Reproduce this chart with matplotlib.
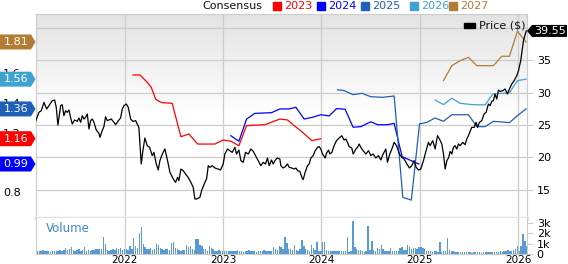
import numpy as np
import matplotlib
matplotlib.use("Agg")
import matplotlib.pyplot as plt
from matplotlib.patches import Polygon, Rectangle

# ---------------- data ----------------
price_t = [2021.091, 2021.125, 2021.149, 2021.176, 2021.203, 2021.227, 2021.261, 2021.285, 2021.301, 2021.318,
           2021.346, 2021.362, 2021.379, 2021.396, 2021.413, 2021.430, 2021.447, 2021.464, 2021.488, 2021.515,
           2021.532, 2021.549, 2021.566, 2021.583, 2021.600, 2021.617, 2021.634, 2021.651, 2021.668, 2021.685,
           2021.708, 2021.736, 2021.746, 2021.769, 2021.786, 2021.803, 2021.820, 2021.837, 2021.861, 2021.888,
           2021.905, 2021.922, 2021.939, 2021.956, 2021.973, 2021.990, 2022.014, 2022.034, 2022.058, 2022.081,
           2022.109, 2022.125, 2022.142, 2022.166, 2022.183, 2022.203, 2022.227, 2022.251, 2022.278, 2022.295,
           2022.319, 2022.339, 2022.356, 2022.380, 2022.407, 2022.434, 2022.458, 2022.492, 2022.515, 2022.536,
           2022.549, 2022.570, 2022.593, 2022.617, 2022.644, 2022.671, 2022.695, 2022.712, 2022.729, 2022.763,
           2022.780, 2022.814, 2022.831, 2022.848, 2022.865, 2022.888, 2022.916, 2022.949, 2022.973, 2023.000,
           2023.017, 2023.044, 2023.068, 2023.092, 2023.119, 2023.136, 2023.160, 2023.180, 2023.204, 2023.227,
           2023.255, 2023.282, 2023.306, 2023.329, 2023.356, 2023.383, 2023.407, 2023.431, 2023.451, 2023.468,
           2023.492, 2023.509, 2023.526, 2023.550, 2023.577, 2023.587, 2023.610, 2023.631, 2023.655, 2023.672,
           2023.699, 2023.723, 2023.740, 2023.757, 2023.780, 2023.801, 2023.814, 2023.834, 2023.858, 2023.875,
           2023.892, 2023.916, 2023.936, 2023.960, 2023.977, 2023.994, 2024.011, 2024.038, 2024.051, 2024.072,
           2024.085, 2024.106, 2024.129, 2024.153, 2024.180, 2024.207, 2024.231, 2024.248, 2024.265, 2024.282,
           2024.309, 2024.323, 2024.350, 2024.367, 2024.384, 2024.401, 2024.424, 2024.452, 2024.479, 2024.503,
           2024.526, 2024.553, 2024.581, 2024.604, 2024.628, 2024.655, 2024.672, 2024.696, 2024.723, 2024.740,
           2024.764, 2024.794, 2024.817, 2024.842, 2024.869, 2024.896, 2024.920, 2024.943, 2024.964, 2024.987,
           2025.011, 2025.038, 2025.065, 2025.089, 2025.106, 2025.133, 2025.157, 2025.181, 2025.201, 2025.225,
           2025.242, 2025.259, 2025.276, 2025.293, 2025.310, 2025.327, 2025.343, 2025.360, 2025.377, 2025.394,
           2025.411, 2025.438, 2025.462, 2025.479, 2025.496, 2025.513, 2025.530, 2025.554, 2025.574, 2025.588,
           2025.608, 2025.632, 2025.655, 2025.676, 2025.699, 2025.716, 2025.733, 2025.750, 2025.767, 2025.784,
           2025.801, 2025.818, 2025.845, 2025.869, 2025.893, 2025.913, 2025.937, 2025.961, 2025.988, 2026.005,
           2026.028, 2026.056, 2026.084]
price_v = [25.55, 26.95, 27.20, 28.49, 27.46, 27.98, 28.75, 28.85, 27.72, 24.98,
           27.98, 28.13, 26.43, 27.20, 26.95, 27.31, 26.17, 25.14, 25.76, 25.55,
           26.07, 25.40, 26.43, 25.91, 26.17, 26.69, 24.37, 25.66, 25.91, 25.40,
           24.21, 23.69, 23.08, 24.11, 24.73, 26.27, 25.66, 25.76, 25.91, 25.40,
           25.04, 25.40, 25.76, 26.07, 27.46, 27.98, 28.24, 27.72, 25.91, 25.55,
           25.66, 25.14, 24.62, 18.95, 21.01, 22.97, 21.79, 21.53, 20.24, 20.75,
           18.95, 18.02, 19.46, 20.50, 21.27, 19.46, 17.66, 16.63, 16.11, 16.88,
           16.37, 18.17, 17.92, 17.40, 16.88, 16.11, 15.34, 13.53, 13.53, 13.79,
           14.82, 16.11, 16.63, 18.69, 18.43, 18.69, 18.33, 18.17, 18.02, 18.95,
           20.50, 21.27, 21.01, 20.75, 21.53, 20.50, 21.11, 19.46, 19.21, 20.75,
           20.50, 21.27, 20.91, 20.24, 19.46, 18.69, 19.21, 18.95, 19.88, 18.69,
           19.57, 18.95, 19.46, 19.88, 19.72, 18.69, 18.33, 18.53, 18.95, 18.43,
           18.33, 18.17, 18.33, 17.92, 17.81, 16.88, 16.52, 17.66, 18.69, 18.95,
           19.88, 20.24, 21.01, 21.53, 21.63, 21.27, 20.50, 19.88, 20.60, 21.11,
           20.50, 20.75, 21.79, 22.56, 22.97, 23.33, 22.66, 22.82, 22.30, 21.63,
           21.42, 20.50, 21.27, 21.53, 22.04, 21.53, 21.01, 20.50, 21.01, 20.24,
           20.50, 19.88, 20.24, 19.57, 20.50, 21.27, 19.21, 20.50, 21.53, 22.30,
           21.79, 20.50, 19.98, 19.72, 18.95, 18.33, 18.69, 19.46, 18.43, 18.02,
           18.17, 19.46, 21.01, 22.30, 21.79, 22.56, 21.27, 23.33, 22.82, 22.04,
           20.50, 18.17, 19.46, 19.88, 20.91, 20.50, 21.53, 21.79, 21.27, 22.04,
           21.79, 22.30, 21.94, 22.82, 23.33, 24.00, 24.62, 24.62, 25.40, 24.62,
           25.40, 25.66, 26.69, 26.95, 28.24, 27.98, 28.65, 28.75, 29.78, 29.01,
           30.40, 30.20, 30.30, 30.56, 29.78, 30.56, 31.33, 31.85, 32.62, 33.39,
           34.94, 38.04, 39.55]

eps2023_t = [2022.081, 2022.153, 2022.227, 2022.268, 2022.312, 2022.346, 2022.379, 2022.481, 2022.570, 2022.651,
             2022.740, 2022.916, 2023.000, 2023.078, 2023.160, 2023.238, 2023.424, 2023.577, 2023.655, 2023.722,
             2023.808, 2023.902, 2023.994]
eps2023_v = [1.588, 1.588, 1.539, 1.505, 1.427, 1.411, 1.402, 1.398, 1.173, 1.192,
             1.124, 1.124, 1.151, 1.143, 1.113, 1.248, 1.254, 1.292, 1.286, 1.248,
             1.203, 1.147, 1.16]

eps2024_t = [2023.078, 2023.160, 2023.238, 2023.322, 2023.492, 2023.577, 2023.671, 2023.740, 2023.824, 2023.909,
             2023.994, 2024.078, 2024.154, 2024.241, 2024.322, 2024.401, 2024.503, 2024.571, 2024.672, 2024.740,
             2024.821, 2024.991]
eps2024_v = [1.180, 1.143, 1.292, 1.330, 1.335, 1.360, 1.360, 1.371, 1.292, 1.304,
             1.321, 1.313, 1.362, 1.358, 1.237, 1.241, 1.274, 1.254, 1.254, 1.263,
             1.039, 0.99]

eps2025_t = [2024.164, 2024.231, 2024.322, 2024.411, 2024.503, 2024.622, 2024.740, 2024.828, 2024.915, 2024.998,
             2025.072, 2025.157, 2025.242, 2025.327, 2025.496, 2025.581, 2025.665, 2025.751, 2025.913, 2025.995,
             2026.082]
eps2025_v = [1.489, 1.483, 1.456, 1.465, 1.442, 1.438, 1.447, 0.766, 0.747, 1.259,
             1.270, 1.299, 1.277, 1.321, 1.321, 1.241, 1.241, 1.277, 1.268, 1.315,
             1.36]

eps2026_t = [2025.157, 2025.242, 2025.327, 2025.411, 2025.530, 2025.665, 2025.744, 2025.913, 2025.995, 2026.082]
eps2026_v = [1.420, 1.389, 1.432, 1.398, 1.389, 1.387, 1.460, 1.469, 1.550, 1.56]

eps2027_t = [2025.242, 2025.327, 2025.411, 2025.496, 2025.581, 2025.751, 2025.835, 2025.913, 2025.995, 2026.082]
eps2027_v = [1.550, 1.651, 1.684, 1.707, 1.651, 1.651, 1.714, 1.714, 1.882, 1.81]

# weekly volume (thousands), first week starting 2021.09
vol_start = 2021.09
volume_k = [0.3, 0.25, 0.3, 0.25, 0.35, 0.3, 0.25, 0.3, 0.2, 0.25, 0.3, 0.25, 0.3, 0.35, 0.3, 0.4,
            0.6, 0.35, 0.45, 0.7, 0.4, 0.3, 0.35, 0.5, 0.3, 0.4, 0.7, 0.3, 0.35, 0.3, 0.4,
            0.4, 0.5, 0.5, 0.45, 0.5, 1.7, 1.0, 0.4, 0.3, 0.35,
            0.5, 0.4, 0.55, 0.45, 0.6, 0.4, 0.5, 0.5, 0.4, 0.8, 0.5,
            1.6, 0.8, 0.6, 2.0, 2.6, 1.0, 0.7, 0.5, 0.5, 0.6, 0.4, 0.5, 1.0, 0.9, 0.6, 0.5, 0.4, 0.5,
            0.5, 0.4, 1.1, 1.2, 0.6, 0.5, 0.4, 0.3, 0.4, 0.4, 0.9, 0.7, 0.8, 0.5, 0.4, 1.5, 1.5, 0.9,
            0.8, 0.5, 0.5, 0.3, 0.8, 0.6, 0.5, 0.3, 0.3, 0.4, 0.3, 0.25, 0.3, 0.3, 0.25, 0.3,
            0.3, 0.25, 0.3, 0.35, 0.3, 0.25, 0.2, 0.3, 0.25, 0.35, 0.3, 0.25, 0.3, 0.2, 0.3, 0.25,
            0.3, 0.35, 0.3, 0.25, 0.3,
            0.3, 0.7, 0.5, 0.4, 0.8, 0.7, 0.5, 1.7, 1.1, 0.5, 0.5, 0.4, 0.9, 0.4, 0.3, 0.5, 1.4, 0.8,
            0.5, 0.4, 0.3, 0.9, 0.6, 0.4, 1.2, 0.3, 0.3, 1.2, 1.2, 0.4, 0.3,
            0.3, 0.3, 0.25, 0.3, 0.3, 0.25, 0.3, 0.3,
            0.3, 1.7, 0.2, 0.3, 3.2, 0.7, 0.5, 0.4, 0.4, 0.3, 0.2, 0.3, 2.7, 0.4, 1.3, 0.4, 0.3, 0.6,
            0.5, 0.9, 0.5, 0.3, 0.25, 0.3, 0.6, 0.3, 0.25, 0.25, 0.25, 0.6, 0.7, 0.4, 0.4, 0.9, 0.7,
            0.5, 0.6, 0.6, 0.5, 0.7, 0.7, 0.6, 0.5, 0.3,
            0.3, 0.25, 0.2, 0.25, 0.3, 0.2, 1.2, 0.2, 0.25, 0.3, 1.6, 0.4, 0.3, 0.25, 0.2,
            0.2, 0.15, 0.2, 0.15, 0.15, 0.2, 0.15, 0.15, 0.1, 0.15, 0.15, 0.2, 0.15, 0.1, 0.15, 0.15,
            0.2, 0.15, 0.2, 0.15, 0.2, 0.15, 0.2, 0.25, 0.2, 0.3,
            0.3, 0.4, 0.3, 0.3, 0.4, 0.5, 0.8, 0.3, 0.8, 1.9, 1.3, 0.8]

year_ticks = [2022, 2023, 2024, 2025, 2026]
price_ticks = [15, 20, 25, 30, 35]
eps_ticks = [0.8, 1.0, 1.2, 1.4, 1.6, 1.8]
eps_tick_labels = ["0.8", "1.0", "1.2", "1.4", "1.6", "1.8"]
vol_ticks = [0, 1, 2, 3]
vol_tick_labels = ["0", "1k", "2k", "3k"]
series_names = ["2023", "2024", "2025", "2026", "2027"]
series_colors = ["#ff0000", "#0000ff", "#1f5fb8", "#3fa2d2", "#b27c34"]
last_price = 39.55

# ---------------- figure ----------------
W, H = 568, 264
plt.rcParams['font.family'] = ['DejaVu Sans']
fig = plt.figure(figsize=(W / 100, H / 100), dpi=100)
FS = 8

def fx(px):
    return px / W

def fy(py):
    return 1 - py / H

L, R = 36, 527
TOP, MID, BOT = 14, 218, 254
XLIM = (2021.095, 2026.092)
GRID = "#cccccc"

ax = fig.add_axes([fx(L), fy(MID), fx(R - L), (MID - TOP) / H])
ax2 = ax.twinx()
ax.set_xlim(*XLIM)
ax.set_ylim(10.59, 42.17)
ax2.set_xlim(*XLIM)
ax2.set_ylim(0.627, 1.998)

# gradient background
top_c = np.array([0.89, 0.89, 0.89])
cols = np.ones((256, 1, 3))
for i in range(256):
    f = min(1.0, (i / 255) / 0.5)
    cols[i, 0, :] = top_c * (1 - f) + 1.0 * f
ax.imshow(cols, extent=[0, 1, 0, 1], transform=ax.transAxes, aspect='auto', zorder=0, origin='upper')

for yv in price_ticks + [40]:
    ax.axhline(yv, color=GRID, lw=0.9, zorder=1)
for xv in year_ticks:
    ax.axvline(xv, color=GRID, lw=0.9, zorder=1)

# price axis on the right
ax.yaxis.tick_right()
ax.set_yticks(price_ticks)
ax.set_yticklabels([str(t) for t in price_ticks], fontsize=FS)
ax.tick_params(axis='y', which='both', left=False, labelleft=False, right=True, labelright=True,
               length=4, color=GRID, pad=3)
ax.set_xticks([])
for s in ['top', 'left', 'right']:
    ax.spines[s].set_color(GRID)
ax.spines['bottom'].set_color('#e2e2e2')
ax.spines['bottom'].set_linewidth(2.5)

# EPS axis on the left
ax2.set_yticks(eps_ticks)
ax2.set_yticklabels(eps_tick_labels, fontsize=FS)
ax2.tick_params(axis='y', which='both', left=True, labelleft=True, right=False, labelright=False,
                length=0, pad=11)
ax2.set_xticks([])
for s in ax2.spines.values():
    s.set_visible(False)

eps_t = [eps2023_t, eps2024_t, eps2025_t, eps2026_t, eps2027_t]
eps_v = [eps2023_v, eps2024_v, eps2025_v, eps2026_v, eps2027_v]
for t, v, c in zip(eps_t, eps_v, series_colors):
    ax2.plot(t, v, color=c, lw=0.9, zorder=4)
price_line_ax = ax2.twinx()
price_line_ax.set_ylim(10.59, 42.17)
price_line_ax.set_xlim(*XLIM)
price_line_ax.axis('off')
price_line_ax.plot(price_t, price_v, color='black', lw=0.9, zorder=5)

# Price legend inside
fig.patches.append(Rectangle((fx(464), fy(27.5)), fx(11), 4.5 / H, transform=fig.transFigure,
                             color='black', figure=fig))
fig.text(fx(479), fy(25.5), "Price ($)", fontsize=FS, va='center', ha='left', color='#111111')

# volume axis
axv = fig.add_axes([fx(L), fy(BOT), fx(R - L), (BOT - MID) / H])
axv.set_xlim(*XLIM)
axv.set_ylim(0, 3.5)
vt = [vol_start + i / 52 for i in range(len(volume_k))]
axv.bar(vt, volume_k, width=0.75 / 52, color='#5b9bd5', edgecolor='none', zorder=3)
for xv in year_ticks:
    axv.axvline(xv, color=GRID, lw=0.9, zorder=1)
axv.yaxis.tick_right()
axv.set_yticks(vol_ticks)
axv.set_yticklabels(vol_tick_labels, fontsize=FS)
axv.tick_params(axis='y', length=4, color=GRID, pad=3)
axv.set_xticks(year_ticks)
axv.set_xticklabels([str(y) for y in year_ticks], fontsize=7.5)
axv.tick_params(axis='x', length=1, color=GRID, pad=0)
axv.spines['top'].set_visible(False)
for s in ['left', 'right', 'bottom']:
    axv.spines[s].set_color(GRID)
axv.text(0.02, 0.7, "Volume", transform=axv.transAxes, fontsize=FS + 0.5, color='#3a87c8', va='center')

# header: Consensus legend
fig.text(fx(262), fy(6), "Consensus", fontsize=FS, ha='right', va='center', color='#111111')
leg_x = [273, 317, 361, 410, 449]
for xs, name, c in zip(leg_x, series_names, series_colors):
    fig.patches.append(Rectangle((fx(xs), fy(9.5)), fx(8), 7.5 / H, transform=fig.transFigure,
                                 color=c, figure=fig))
    fig.text(fx(xs + 11.5), fy(6), name, fontsize=FS, ha='left', va='center', color=c)

# left value tags
fig.canvas.draw()
for v, c in zip([e[-1] for e in eps_v], series_colors):
    ypix = ax2.transData.transform((XLIM[0], v))[1]
    hh = 7.5
    poly = Polygon([(0, ypix - hh), (31, ypix - hh), (35.5, ypix), (31, ypix + hh), (0, ypix + hh)],
                   closed=True, transform=None, facecolor=c, edgecolor='none', zorder=10)
    fig.patches.append(poly)
    fig.text(16 / W, ypix / H, f"{v:.2f}", fontsize=FS, color='white', ha='center', va='center', zorder=11)

# right price tag
yp = price_line_ax.transData.transform((XLIM[1], last_price))[1]
hh = 6
poly = Polygon([(527, yp), (532, yp + hh), (567, yp + hh), (567, yp - hh), (532, yp - hh)],
               closed=True, transform=None, facecolor='black', edgecolor='none', zorder=10)
fig.patches.append(poly)
fig.text(550 / W, yp / H, f"{last_price:.2f}", fontsize=FS, color='white', ha='center', va='center', zorder=11)

fig.savefig("out.png", dpi=100)
